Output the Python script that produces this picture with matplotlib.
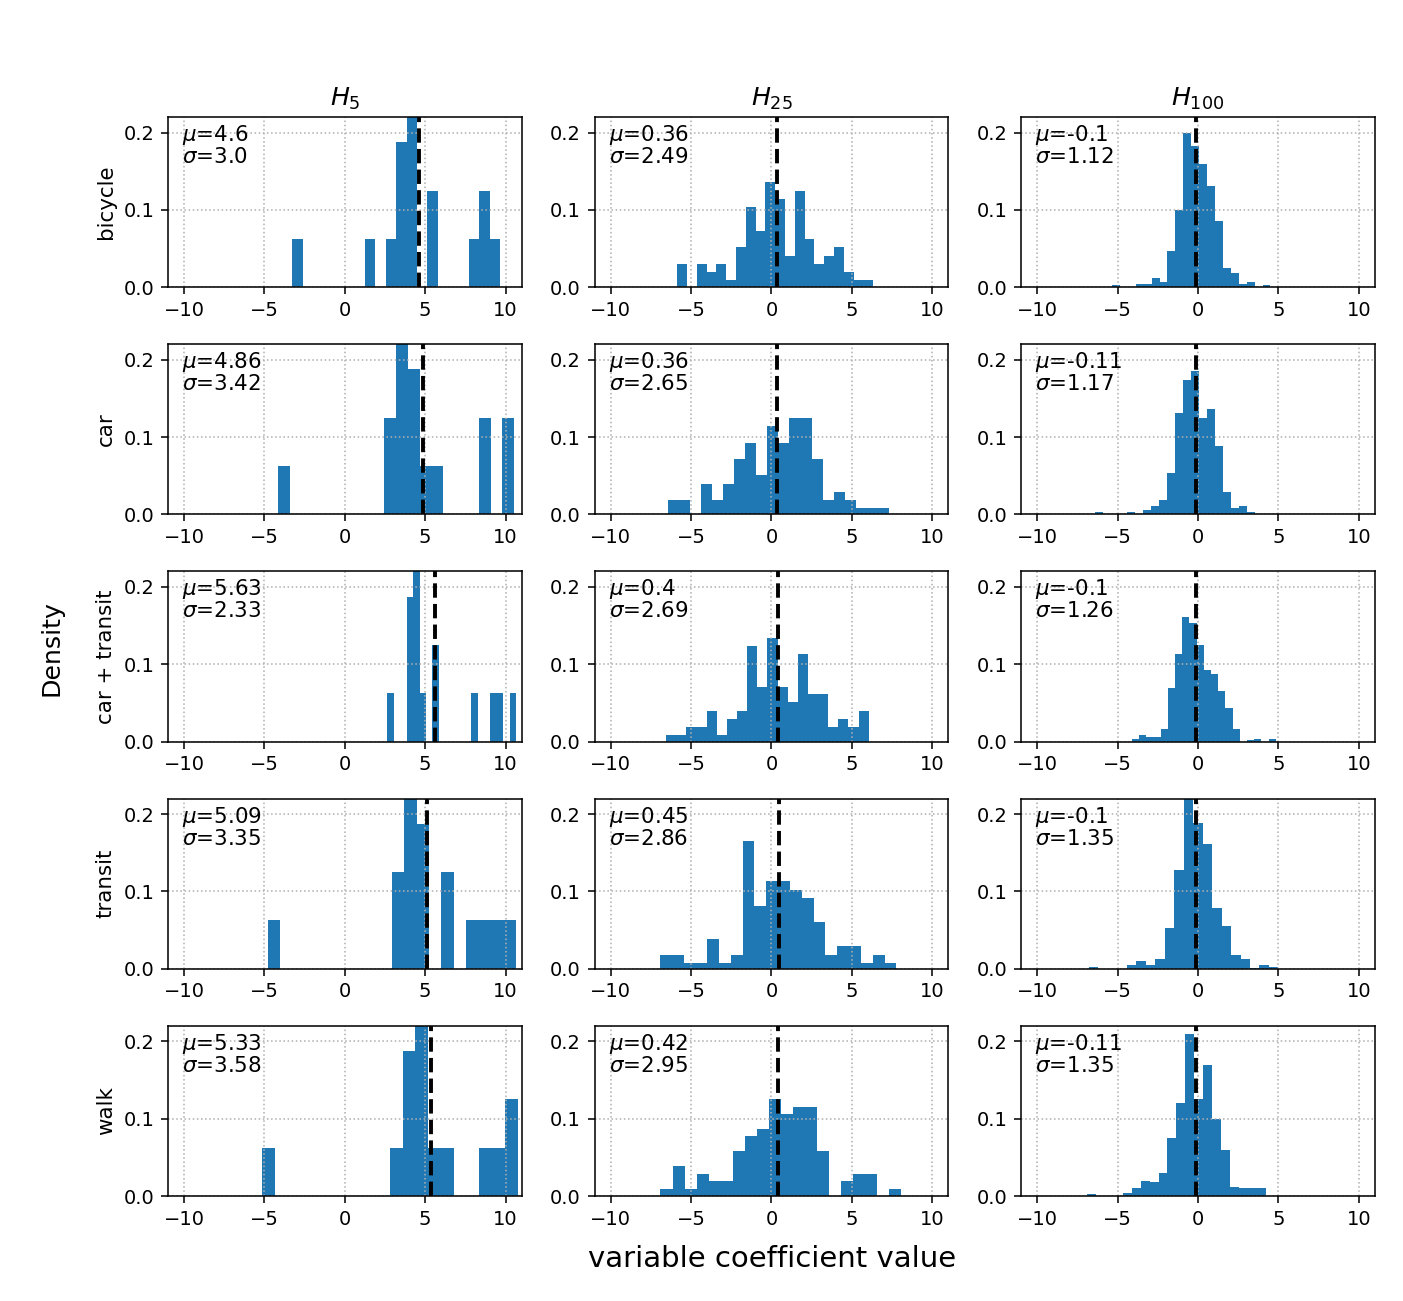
import numpy as np
import matplotlib
matplotlib.use("Agg")
import matplotlib.pyplot as plt

# rows = travel mode, columns = horizon
modes = ['bicycle', 'car', 'car + transit', 'transit', 'walk']
horizons = ['$H_{5}$', '$H_{25}$', '$H_{100}$']

means = [[4.6, 0.36, -0.1],
         [4.86, 0.36, -0.11],
         [5.63, 0.4, -0.1],
         [5.09, 0.45, -0.1],
         [5.33, 0.42, -0.11]]
stds = [[3.0, 2.49, 1.12],
        [3.42, 2.65, 1.17],
        [2.33, 2.69, 1.26],
        [3.35, 2.86, 1.35],
        [3.58, 2.95, 1.35]]

# (first bin edge, last bin edge), 20 bins each
bin_range = [[(-3.26, 9.65), (-5.87, 6.34), (-5.35, 4.50)],
             [(-4.15, 10.54), (-6.45, 7.31), (-6.38, 3.57)],
             [(2.645, 10.66), (-6.55, 6.05), (-4.11, 4.83)],
             [(-4.77, 10.62), (-6.94, 7.77), (-6.80, 5.00)],
             [(-5.16, 10.75), (-6.90, 8.04), (-6.90, 4.20)]]

# bar heights (fraction of samples per bin)
bicycle_h5 = [0.0625, 0, 0, 0, 0, 0, 0, 0.0625, 0, 0.0625, 0.1875, 0.25, 0, 0.125, 0, 0, 0, 0.0625, 0.125, 0.0625]
bicycle_h25 = [0.0306, 0, 0.0306, 0.020, 0.0306, 0.0092, 0.052, 0.104, 0.073, 0.136,
               0.114, 0.041, 0.125, 0.062, 0.0306, 0.041, 0.052, 0.020, 0.0092, 0.0092]
bicycle_h100 = [0.003, 0, 0, 0.004, 0.004, 0.0114, 0.0066, 0.047, 0.1, 0.2,
                0.183, 0.160, 0.131, 0.086, 0.025, 0.019, 0.004, 0.0066, 0, 0.003]

car_h5 = [0.0625, 0, 0, 0, 0, 0, 0, 0, 0, 0.125, 0.25, 0.1875, 0.0625, 0.0625, 0, 0, 0, 0.125, 0, 0.125]
car_h25 = [0.0192, 0.0192, 0, 0.040, 0.0192, 0.040, 0.0716, 0.0926, 0.051, 0.114,
           0.0926, 0.1245, 0.1245, 0.0716, 0.0192, 0.029, 0.0192, 0.0087, 0.0087, 0.0087]
car_h100 = [0.003, 0, 0, 0, 0.003, 0, 0.0057, 0.011, 0.019, 0.054,
            0.131, 0.174, 0.185, 0.125, 0.136, 0.088, 0.029, 0.0083, 0.011, 0.003]

cartransit_h5 = [0.0625, 0, 0, 0.1875, 0.3125, 0.0625, 0, 0.125, 0, 0, 0, 0, 0, 0.0625, 0, 0, 0.0625, 0.0625, 0, 0.0625]
cartransit_h25 = [0.0083, 0.0083, 0.0188, 0.0188, 0.040, 0.0083, 0.029, 0.040, 0.124, 0.071,
                  0.1345, 0.071, 0.0507, 0.1135, 0.061, 0.061, 0.0188, 0.029, 0.0188, 0.040]
cartransit_h100 = [0.003, 0.008, 0.0057, 0.0057, 0.0157, 0.069, 0.1127, 0.161, 0.154, 0.125,
                   0.092, 0.087, 0.066, 0.0437, 0.0157, 0, 0.0015, 0.003, 0, 0.003]

transit_h5 = [0.0625, 0, 0, 0, 0, 0, 0, 0, 0, 0, 0.125, 0.25, 0.1875, 0, 0.125, 0, 0.0625, 0.0625, 0.0625, 0.0625]
transit_h25 = [0.0183, 0.0183, 0.0079, 0.0079, 0.039, 0.0079, 0.0183, 0.1655, 0.0817, 0.113,
               0.113, 0.102, 0.092, 0.061, 0.0183, 0.029, 0.029, 0.0079, 0.0183, 0.0079]
transit_h100 = [0.0025, 0, 0, 0, 0.0048, 0.0096, 0.0044, 0.013, 0.053, 0.1275,
                0.26, 0.1887, 0.161, 0.079, 0.056, 0.018, 0.013, 0.0015, 0.0048, 0.0026]

walk_h5 = [0.0625, 0, 0, 0, 0, 0, 0, 0, 0, 0, 0.0625, 0.1875, 0.3125, 0.0625, 0.0625, 0, 0, 0.0625, 0.0625, 0.125]
walk_h25 = [0.0096, 0.0385, 0.0096, 0.029, 0.0192, 0.0192, 0.058, 0.077, 0.087, 0.125,
            0.106, 0.115, 0.115, 0.058, 0, 0.0192, 0.029, 0.029, 0, 0.0096]
walk_h100 = [0.003, 0, 0, 0, 0.004, 0.01, 0.02, 0.018, 0.03, 0.075,
             0.12, 0.21, 0.125, 0.17, 0.1, 0.06, 0.012, 0.01, 0.01, 0.01]

heights = [[bicycle_h5, bicycle_h25, bicycle_h100],
           [car_h5, car_h25, car_h100],
           [cartransit_h5, cartransit_h25, cartransit_h100],
           [transit_h5, transit_h25, transit_h100],
           [walk_h5, walk_h25, walk_h100]]

fig, axes = plt.subplots(5, 3, figsize=(1403 / 140, 1301 / 140), dpi=140)
fig.subplots_adjust(left=0.1197, right=0.980, top=0.910, bottom=0.0807,
                    wspace=0.206, hspace=0.335)

for i in range(5):
    for j in range(3):
        ax = axes[i, j]
        lo, hi = bin_range[i][j]
        edges = np.linspace(lo, hi, len(heights[i][j]) + 1)
        ax.hist(edges[:-1], bins=edges, weights=heights[i][j], color='C0')
        ax.axvline(means[i][j], color='black', linestyle='--', linewidth=2)
        ax.set_xlim(-11, 11)
        ax.set_ylim(0, 0.22)
        ax.set_xticks([-10, -5, 0, 5, 10])
        ax.set_yticks([0.0, 0.1, 0.2])
        ax.grid(linestyle=':')
        ax.text(0.04, 0.965, '$\\mu$=' + str(means[i][j]) + '\n$\\sigma$=' + str(stds[i][j]),
                transform=ax.transAxes, va='top', ha='left', fontsize=11, linespacing=1.0)
        if i == 0:
            ax.set_title(horizons[j], fontsize=13)
        if j == 0:
            ax.set_ylabel(modes[i], fontsize=11)

fig.text(0.037, 0.502, 'Density', rotation=90, ha='center', va='center', fontsize=13)
fig.text(0.55, 0.032, 'variable coefficient value', ha='center', va='center', fontsize=15)

fig.savefig('out.png', dpi=140)
